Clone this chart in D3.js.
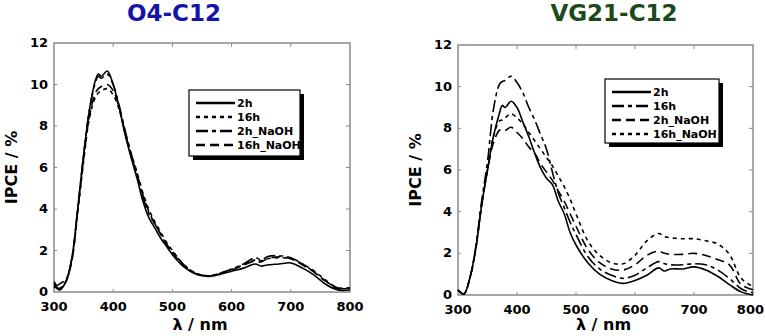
<!DOCTYPE html>
<html>
<head>
  <meta charset="utf-8">
  <title>IPCE</title>
  <script src="https://cdn.jsdelivr.net/npm/d3@7"></script>
  <style>
    body { margin: 0; background: #fff; }
    text { font-family: "DejaVu Sans", Verdana, sans-serif; font-weight: bold; }
  </style>
</head>
<body>
<svg width="765" height="336"></svg>

<script>
  // wavelengths (nm)
  var wl = [300,310,320,330,340,350,360,370,375,380,390,400,410,420,430,440,450,460,470,480,490,500,520,540,560,580,600,620,640,650,660,680,700,720,740,760,780,800];

  // O4-C12
  var o4_2h      = [0.3,0.1,0.5,1.6,4.0,6.6,8.8,10.2,10.5,10.4,10.65,10.0,8.9,7.6,6.5,5.5,4.4,3.6,3.1,2.6,2.2,1.8,1.2,0.85,0.75,0.85,1.0,1.15,1.35,1.25,1.3,1.35,1.4,1.15,0.8,0.35,0.1,0.1];
  var o4_16h     = [0.5,0.2,0.5,1.5,3.8,6.3,8.4,9.4,9.6,9.7,9.8,9.5,8.8,7.7,6.7,5.8,4.8,4.0,3.4,2.9,2.4,2.0,1.3,0.9,0.78,0.9,1.1,1.3,1.55,1.5,1.6,1.65,1.6,1.35,1.0,0.55,0.2,0.2];
  var o4_2hNa    = [0.2,0.4,0.6,1.6,4.0,6.6,8.8,10.1,10.4,10.3,10.5,10.0,9.0,7.8,6.7,5.7,4.6,3.8,3.3,2.8,2.3,1.95,1.3,0.9,0.78,0.9,1.1,1.35,1.65,1.55,1.7,1.75,1.65,1.35,0.95,0.5,0.2,0.15];
  var o4_16hNa   = [0.4,0.15,0.5,1.5,3.9,6.4,8.5,9.6,9.8,9.9,10.0,9.7,8.9,7.7,6.6,5.7,4.7,3.9,3.3,2.8,2.3,1.9,1.25,0.88,0.76,0.88,1.05,1.3,1.5,1.45,1.6,1.7,1.6,1.3,0.95,0.5,0.15,0.2];

  // VG21-C12
  var vg_2h      = [0.24,0.05,0.8,2.2,4.3,6.0,7.6,8.7,9.1,9.0,9.3,9.0,8.3,7.6,6.8,6.1,5.6,5.3,4.5,3.9,3.0,2.4,1.55,1.0,0.7,0.56,0.7,0.95,1.3,1.15,1.25,1.25,1.35,1.2,0.9,0.5,0.15,0.0];
  var vg_16h     = [0.24,0.05,0.8,2.3,4.5,6.4,8.9,10.1,10.25,10.3,10.5,10.2,9.7,9.0,8.4,7.7,7.0,5.9,4.9,4.2,3.5,2.9,1.85,1.25,0.95,0.8,0.95,1.3,1.6,1.5,1.45,1.45,1.5,1.45,1.2,0.8,0.3,0.1];
  var vg_2hNa    = [0.24,0.05,0.8,2.2,4.3,6.0,7.3,7.9,7.95,7.9,8.05,7.8,7.5,7.1,6.8,6.3,5.9,5.5,5.0,4.5,3.9,3.3,2.2,1.55,1.25,1.2,1.45,1.9,2.1,2.0,1.95,1.95,2.0,1.9,1.7,1.45,0.5,0.25];
  var vg_16hNa   = [0.24,0.05,0.8,2.2,4.3,6.0,7.6,8.35,8.4,8.5,8.7,8.5,8.2,7.8,7.4,7.0,6.6,6.2,5.7,5.2,4.6,3.9,2.6,1.9,1.55,1.5,1.9,2.6,2.95,2.8,2.75,2.7,2.7,2.6,2.45,1.95,0.8,0.4];

  var xTicks = [300,400,500,600,700,800];
  var yTicks = [0,2,4,6,8,10,12];

  // dash patterns
  var SOLID = null, DOT = "4,4", DASHDOT = "12,4,4,4", DASH = "9,5";

  var W = 765;
  var svg = d3.select("svg");

  function drawPanel(p) {
    var x = d3.scaleLinear().domain([300, 800]).range([p.left, p.right]);
    var y = d3.scaleLinear().domain([0, 12]).range([p.bottom, p.top]);
    var g = svg.append("g");

    // title
    g.append("text")
      .attr("x", p.titleX)
      .attr("y", 21)
      .attr("text-anchor", "middle")
      .style("font-size", "23px")
      .style("fill", p.titleColor)
      .text(p.title);

    // inner ticks on all sides
    var tk = g.append("g").attr("stroke", "#888").attr("stroke-width", 1);
    xTicks.slice(1, -1).forEach(function(t) {
      tk.append("line").attr("x1", x(t)).attr("x2", x(t)).attr("y1", p.top).attr("y2", p.top + 4);
      tk.append("line").attr("x1", x(t)).attr("x2", x(t)).attr("y1", p.bottom).attr("y2", p.bottom - 3);
    });
    yTicks.slice(1, -1).forEach(function(t) {
      tk.append("line").attr("x1", p.right).attr("x2", p.right - 4).attr("y1", y(t)).attr("y2", y(t));
      tk.append("line").attr("x1", p.left).attr("x2", p.left + 3).attr("y1", y(t)).attr("y2", y(t));
    });

    // frame
    g.append("rect")
      .attr("x", p.left).attr("y", p.top)
      .attr("width", p.right - p.left).attr("height", p.bottom - p.top)
      .attr("fill", "none").attr("stroke", "#8a8a8a").attr("stroke-width", 1.5);

    // tick labels
    g.selectAll(".xl").data(xTicks).enter().append("text")
      .attr("x", function(d) { return x(d); })
      .attr("y", p.bottom + 19)
      .attr("text-anchor", "middle")
      .style("font-size", "13px")
      .text(function(d) { return d; })
      .each(function() {
        // keep the last label inside the page
        var b = this.getBBox();
        if (b.x + b.width > W - 1) d3.select(this).attr("x", W - 1 - b.width / 2);
      });
    g.selectAll(".yl").data(yTicks).enter().append("text")
      .attr("x", p.left - 6)
      .attr("y", function(d) { return y(d) + 4; })
      .attr("text-anchor", "end")
      .style("font-size", "13px")
      .text(function(d) { return d; });

    // axis titles
    g.append("text")
      .attr("x", (p.left + p.right) / 2 - 2)
      .attr("y", 330)
      .attr("text-anchor", "middle")
      .style("font-size", "16px")
      .text("λ / nm");
    g.append("text")
      .attr("transform", "translate(" + (p.left - 37) + "," + ((p.top + p.bottom) / 2) + ") rotate(-90)")
      .attr("text-anchor", "middle")
      .style("font-size", "16px")
      .text("IPCE / %");

    // curves
    var line = d3.line()
      .x(function(d) { return x(d[0]); })
      .y(function(d) { return y(d[1]); })
      .curve(d3.curveCatmullRom.alpha(0.5));

    p.series.forEach(function(s) {
      g.append("path")
        .datum(d3.zip(wl, s.values))
        .attr("d", line)
        .attr("fill", "none")
        .attr("stroke", "#000")
        .attr("stroke-width", 1.6)
        .attr("stroke-dasharray", s.dash);
    });

    // legend with drop shadow
    var L = p.legend;
    g.append("rect")
      .attr("x", L.x + 4).attr("y", L.y + 4)
      .attr("width", L.w).attr("height", L.h)
      .attr("fill", "#000");
    g.append("rect")
      .attr("x", L.x).attr("y", L.y)
      .attr("width", L.w).attr("height", L.h)
      .attr("fill", "#fff").attr("stroke", "#000").attr("stroke-width", 1.2);
    p.series.forEach(function(s, i) {
      var ly = L.y + 13 + i * 14;
      g.append("line")
        .attr("x1", L.x + 7).attr("x2", L.x + 46)
        .attr("y1", ly).attr("y2", ly)
        .attr("stroke", "#000").attr("stroke-width", 2.6)
        .attr("stroke-dasharray", s.dash);
      g.append("text")
        .attr("x", L.x + 48).attr("y", ly + 4)
        .style("font-size", "11px")
        .text(s.name);
    });
  }

  drawPanel({
    title: "O4-C12", titleColor: "#1414a8", titleX: 174,
    left: 54, right: 350, top: 43, bottom: 292,
    legend: { x: 189, y: 90, w: 111, h: 66 },
    series: [
      { name: "2h", values: o4_2h, dash: SOLID },
      { name: "16h", values: o4_16h, dash: DOT },
      { name: "2h_NaOH", values: o4_2hNa, dash: DASHDOT },
      { name: "16h_NaOH", values: o4_16hNa, dash: DASH }
    ]
  });

  drawPanel({
    title: "VG21-C12", titleColor: "#1b4a1b", titleX: 614,
    left: 458, right: 753, top: 45, bottom: 295,
    legend: { x: 605, y: 79, w: 114, h: 64 },
    series: [
      { name: "2h", values: vg_2h, dash: SOLID },
      { name: "16h", values: vg_16h, dash: DASHDOT },
      { name: "2h_NaOH", values: vg_2hNa, dash: DASH },
      { name: "16h_NaOH", values: vg_16hNa, dash: DOT }
    ]
  });
</script>
</body>
</html>
